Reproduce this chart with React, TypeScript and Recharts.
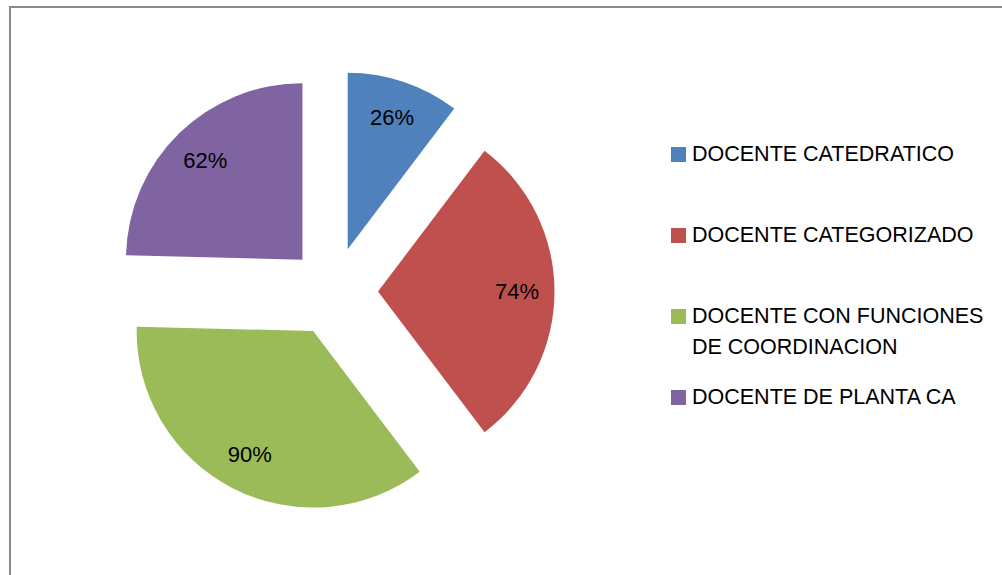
import { PieChart, Pie, Cell, Sector, Legend } from 'recharts';

const categories = [
  'DOCENTE CATEDRATICO',
  'DOCENTE CATEGORIZADO',
  'DOCENTE CON FUNCIONES DE COORDINACION',
  'DOCENTE DE PLANTA CA',
];
const values = [26, 74, 90, 62];
const colors = ['#4F81BD', '#C0504D', '#9BBB59', '#8064A2'];

const RAD = Math.PI / 180;
const EXPLODE = 44.5; // every slice pulled out from the centre
const LABEL_R = 139; // label distance from the slice's own apex

const chartData = categories.map((name, i) => ({ name, value: values[i] }));

// pie slice moved outward along its middle angle
const ExplodedSector = (props: any) => {
  const { cx, cy, midAngle } = props;
  const dx = EXPLODE * Math.cos(-midAngle * RAD);
  const dy = EXPLODE * Math.sin(-midAngle * RAD);
  return <Sector {...props} cx={cx + dx} cy={cy + dy} stroke="none" />;
};

const renderLabel = (props: any) => {
  const { cx, cy, midAngle, value } = props;
  const r = EXPLODE + LABEL_R;
  const x = cx + r * Math.cos(-midAngle * RAD);
  const y = cy + r * Math.sin(-midAngle * RAD);
  return (
    <text
      x={x}
      y={y}
      fill="#000"
      textAnchor="middle"
      dominantBaseline="central"
      fontSize={22}
      fontFamily="'Liberation Sans', Arial, sans-serif"
    >
      {`${value}%`}
    </text>
  );
};

const renderLegend = () => (
  <div style={{ fontFamily: "'Liberation Sans', Arial, sans-serif", fontSize: 21.5, lineHeight: '31px', color: '#000' }}>
    {categories.map((name, i) => (
      <div key={name} style={{ display: 'flex', alignItems: 'flex-start', height: 81 }}>
        <div style={{ width: 15, height: 15, marginTop: 8, marginRight: 6, background: colors[i], flexShrink: 0 }} />
        <div style={{ width: 302 }}>{name}</div>
      </div>
    ))}
  </div>
);

export default function App() {
  return (
    <div style={{ position: 'absolute', left: 0, top: 0, width: 1002, height: 575, overflow: 'hidden', background: '#fff' }}>
      <div
        style={{
          position: 'absolute',
          left: 9,
          top: 6,
          width: 1100,
          height: 700,
          border: '2px solid #8a8a8a',
          boxSizing: 'border-box',
        }}
      />
      <div style={{ position: 'absolute', left: 0, top: 0 }}>
        <PieChart width={1002} height={575} margin={{ top: 0, right: 0, bottom: 0, left: 0 }}>
          <Pie
            data={chartData}
            dataKey="value"
            nameKey="name"
            cx={333.5}
            cy={291.5}
            outerRadius={176.5}
            startAngle={90}
            endAngle={-270}
            stroke="none"
            shape={ExplodedSector}
            activeShape={ExplodedSector}
            inactiveShape={ExplodedSector}
            label={renderLabel}
            labelLine={false}
            isAnimationActive={false}
          >
            {chartData.map((d, i) => (
              <Cell key={d.name} fill={colors[i]} />
            ))}
          </Pie>
          <Legend
            content={renderLegend}
            layout="vertical"
            wrapperStyle={{ position: 'absolute', left: 671, top: 139, width: 330 }}
          />
        </PieChart>
      </div>
    </div>
  );
}
